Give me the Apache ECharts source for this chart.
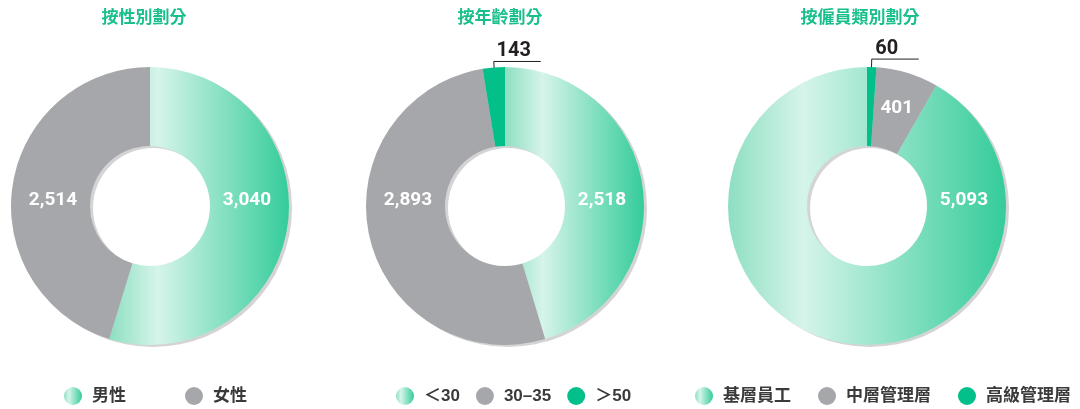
<!DOCTYPE html>
<html>
<head>
<meta charset="utf-8">
<script src="https://cdn.jsdelivr.net/npm/echarts@6/dist/echarts.min.js"></script>
<style>
  html, body { margin: 0; padding: 0; background: #fff; }
  #chart { width: 1080px; height: 409px; }
</style>
</head>
<body>
<div id="chart"></div>
<script>
// 三個分類的員工數據
const titles = ['按性別劃分', '按年齡劃分', '按僱員類別劃分'];

const genderNames = ['男性', '女性'];
const genderValues = [3040, 2514];

const ageNames = ['＜30', '30–35', '＞50'];
const ageValues = [2518, 2893, 143];

const levelNames = ['基層員工', '中層管理層', '高級管理層'];
const levelValues = [5093, 401, 60];

const GREEN = '#19bf8c';
const GRAY = '#a6a7ab';
const DARK_GREEN = '#03bf89';
const NUM_FONT = 'Roboto, "DejaVu Sans", sans-serif';
const CJK_FONT = '"Liberation Sans", "Noto Sans CJK TC", sans-serif';

const centers = [[150, 206], [505, 206], [867, 206]];
const radius = [60, 139];

function mintGradient() {
  return new echarts.graphic.LinearGradient(0, 0, 1, 0, [
    { offset: 0, color: '#8ddfc1' },
    { offset: 0.27, color: '#d6f4ea' },
    { offset: 1, color: '#34cc9a' }
  ]);
}

const chart = echarts.init(document.getElementById('chart'), null, { renderer: 'canvas' });

// sides: 1 = 右側水平, -1 = 左側水平, out = 外部引線, null = 預設
function makeLayout(cx, cy, sides) {
  return function (params) {
    const side = sides[params.dataIndex];
    if (side === 1 || side === -1) {
      return { x: cx + side * 97, y: cy - 6, align: 'center', verticalAlign: 'middle' };
    }
    if (side && side.out) {
      const p = params.labelLinePoints[0];
      const dx = cx - p[0], dy = cy - p[1];
      const len = Math.sqrt(dx * dx + dy * dy);
      const start = [p[0] + dx / len * 14, p[1] + dy / len * 14];
      const topY = p[1] - side.up;
      return {
        x: p[0] + side.shift,
        y: topY,
        align: 'center',
        verticalAlign: 'bottom',
        labelLinePoints: [start, [p[0], topY], [p[0] + 47, topY]]
      };
    }
    return {};
  };
}

function makeItems(names, values, colors, outIndex) {
  return names.map((name, i) => {
    const item = { name: name, value: values[i], itemStyle: { color: colors[i] } };
    if (i === outIndex) {
      item.label = { position: 'outside', color: '#231f20', fontSize: 20 };
      item.labelLine = { show: true, length: 6, length2: 40, lineStyle: { color: '#231f20', width: 1 } };
    }
    return item;
  });
}

function shadowRing(c) {
  return {
    type: 'pie',
    name: 'shadow',
    silent: true,
    z: 1,
    radius: radius,
    center: [c[0] + 3, c[1] + 2],
    label: { show: false },
    labelLine: { show: false },
    itemStyle: { color: '#d4d4d6' },
    data: [{ value: 1, name: '' }]
  };
}

function donut(name, c, data, sides, clockwise) {
  return {
    type: 'pie',
    name: name,
    z: 2,
    radius: radius,
    center: c,
    startAngle: 90,
    clockwise: clockwise,
    avoidLabelOverlap: false,
    emphasis: { disabled: true },
    itemStyle: { borderWidth: 0 },
    label: {
      show: true,
      position: 'inside',
      formatter: p => p.value.toLocaleString('en-US'),
      color: '#fff',
      fontFamily: NUM_FONT,
      fontWeight: 'bold',
      fontSize: 19
    },
    labelLine: { show: false },
    labelLayout: makeLayout(c[0], c[1], sides),
    data: data
  };
}

const legendBase = {
  top: 387,
  padding: 0,
  icon: 'circle',
  itemWidth: 18,
  itemHeight: 18,
  selectedMode: false,
  textStyle: {
    color: '#3a3a3a',
    fontFamily: CJK_FONT,
    fontWeight: 'bold',
    fontSize: 17,
    padding: [0, 0, 0, 5]
  }
};

const option = {
  backgroundColor: '#fff',
  animation: false,
  title: titles.map((t, i) => ({
    text: t,
    left: [144, 500, 860][i],
    top: 10,
    padding: 0,
    textAlign: 'center',
    textStyle: { color: GREEN, fontFamily: CJK_FONT, fontWeight: 'bold', fontSize: 17 }
  })),
  legend: [
    Object.assign({}, legendBase, { left: 64, itemGap: 59, data: genderNames }),
    Object.assign({}, legendBase, { left: 396, itemGap: 16, data: ageNames }),
    Object.assign({}, legendBase, { left: 695, itemGap: 27, data: levelNames })
  ],
  series: [
    shadowRing(centers[0]),
    shadowRing(centers[1]),
    shadowRing(centers[2]),
    donut('gender', centers[0], makeItems(genderNames, genderValues, [mintGradient(), GRAY], -1), [1, -1], true),
    donut('age', centers[1], makeItems(ageNames, ageValues, [mintGradient(), GRAY, DARK_GREEN], 2),
      [1, -1, { out: true, up: 6, shift: 20 }], true),
    donut('level', centers[2], makeItems(levelNames, levelValues, [mintGradient(), GRAY, DARK_GREEN], 2),
      [1, null, { out: true, up: 8, shift: 15 }], false)
  ]
};

chart.setOption(option);

window.addEventListener('resize', () => chart.resize());
</script>
</body>
</html>
